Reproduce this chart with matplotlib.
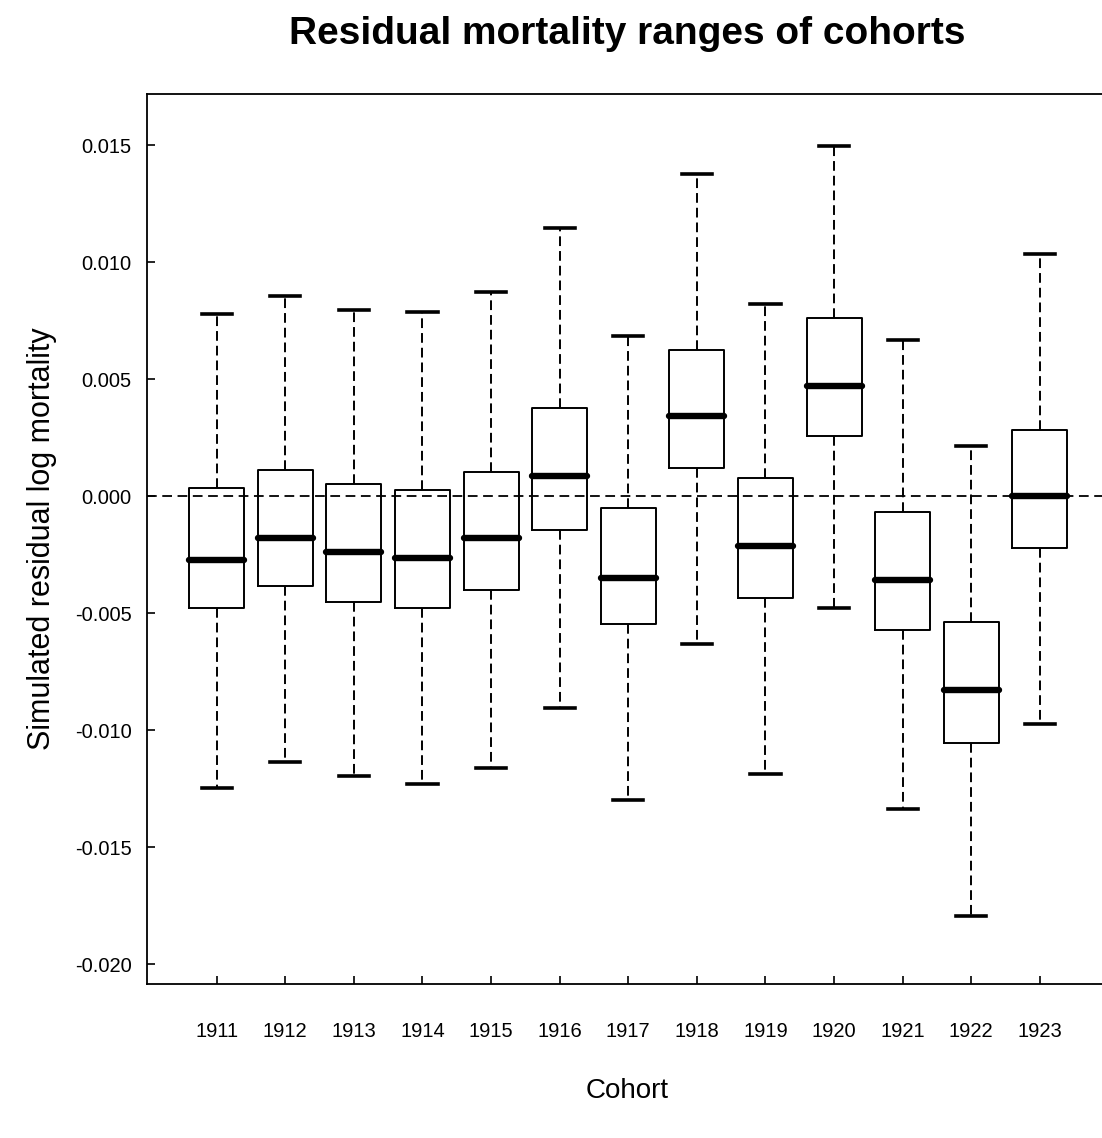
import numpy as np
import matplotlib
matplotlib.use("Agg")
from matplotlib import pyplot as plt

# Data: box statistics per cohort
cohorts = ['1911', '1912', '1913', '1914', '1915', '1916', '1917',
           '1918', '1919', '1920', '1921', '1922', '1923']
whis_hi = [0.00776, 0.00855, 0.00793, 0.00785, 0.00870, 0.01144, 0.00682,
           0.01376, 0.00821, 0.01496, 0.00665, 0.00214, 0.01033]
q3 = [0.00033, 0.00110, 0.00050, 0.00026, 0.00101, 0.00377, -0.00053,
      0.00624, 0.00076, 0.00759, -0.00068, -0.00540, 0.00282]
medians = [-0.00274, -0.00181, -0.00241, -0.00266, -0.00181, 0.00084, -0.00350,
           0.00342, -0.00214, 0.00470, -0.00359, -0.00829, 0.00000]
q1 = [-0.00479, -0.00386, -0.00454, -0.00479, -0.00403, -0.00145, -0.00547,
      0.00118, -0.00436, 0.00256, -0.00574, -0.01053, -0.00224]
whis_lo = [-0.01249, -0.01138, -0.01197, -0.01231, -0.01164, -0.00907, -0.01300,
           -0.00632, -0.01189, -0.00479, -0.01335, -0.01795, -0.00974]
yticks = [0.015, 0.010, 0.005, 0.000, -0.005, -0.010, -0.015, -0.020]

plt.rcParams['font.family'] = ['Liberation Sans', 'DejaVu Sans']
plt.rcParams['axes.unicode_minus'] = False
plt.rcParams['lines.scale_dashes'] = False

fig = plt.figure(figsize=(11.02, 11.38), dpi=100)
ax = fig.add_axes([0.1331, 0.1353, 0.8728, 0.7821])

stats = []
for i in range(len(cohorts)):
    stats.append({'med': medians[i], 'q1': q1[i], 'q3': q3[i],
                  'whislo': whis_lo[i], 'whishi': whis_hi[i],
                  'fliers': [], 'label': cohorts[i]})

positions = np.arange(1, len(cohorts) + 1)
ax.bxp(stats, positions=positions, widths=0.8, capwidths=0.44,
       showfliers=False,
       boxprops=dict(color='black', linewidth=1.4),
       whiskerprops=dict(color='black', linewidth=1.4, linestyle=(0, (7, 3.6))),
       capprops=dict(color='black', linewidth=2.6),
       medianprops=dict(color='black', linewidth=4.6, solid_capstyle='round'))

ax.axhline(0, color='black', linewidth=1.3, linestyle=(0, (7, 4)), zorder=3)

ax.set_xlim(-0.02, 14.0)
ax.set_ylim(-0.02085, 0.01718)
ax.set_yticks(yticks)
ax.set_yticklabels(['%.3f' % v for v in yticks])
ax.set_xticks(positions)
ax.set_xticklabels(cohorts)

ax.tick_params(axis='both', direction='in', length=6, width=1.2, labelsize=14.5)
ax.tick_params(axis='y', pad=11)
ax.tick_params(axis='x', pad=27)
for s in ax.spines.values():
    s.set_linewidth(1.3)

ax.set_title('Residual mortality ranges of cohorts', fontsize=28,
             fontweight='bold', pad=36)
ax.set_xlabel('Cohort', fontsize=20, labelpad=27)
ax.set_ylabel('Simulated residual log mortality', fontsize=22, labelpad=13)

plt.savefig('out.png', dpi=100)
